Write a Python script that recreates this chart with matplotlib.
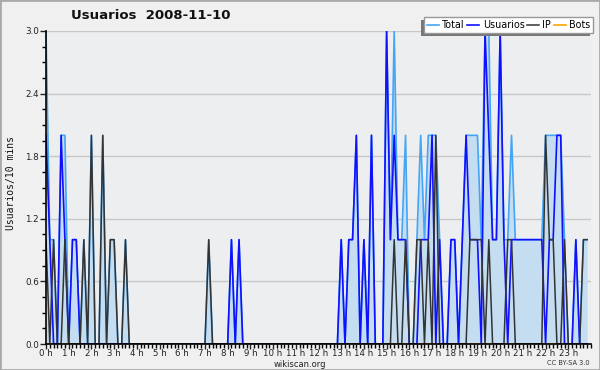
import matplotlib
matplotlib.use("Agg")
import matplotlib.pyplot as plt
from matplotlib.patches import Rectangle
import numpy as np

# valores cada 10 minutos (144 puntos)
usuarios = [2, 1, 0, 0, 2, 1, 0, 1, 1, 0, 0, 0, 0, 0, 0, 0, 0, 0, 0, 0, 0, 0, 0, 0,
            0, 0, 0, 0, 0, 0, 0, 0, 0, 0, 0, 0, 0, 0, 0, 0, 0, 0, 0, 0, 0, 0, 0, 0,
            0, 1, 0, 1, 0, 0, 0, 0, 0, 0, 0, 0, 0, 0, 0, 0, 0, 0, 0, 0, 0, 0, 0, 0,
            0, 0, 0, 0, 0, 0, 1, 0, 1, 1, 2, 0, 1, 0, 2, 0, 0, 0, 3, 1, 2, 1, 1, 1,
            0, 0, 0, 1, 1, 1, 2, 0, 1, 0, 0, 1, 1, 0, 1, 2, 1, 1, 1, 0, 3, 2, 1, 1,
            3, 1, 0, 1, 1, 1, 1, 1, 1, 1, 1, 1, 0, 1, 1, 2, 2, 0, 0, 0, 1, 0, 0, 0]
ip = [1, 0, 1, 0, 0, 1, 0, 0, 0, 0, 1, 0, 2, 0, 0, 2, 0, 1, 1, 0, 0, 1, 0, 0,
      0, 0, 0, 0, 0, 0, 0, 0, 0, 0, 0, 0, 0, 0, 0, 0, 0, 0, 0, 1, 0, 0, 0, 0,
      0, 0, 0, 0, 0, 0, 0, 0, 0, 0, 0, 0, 0, 0, 0, 0, 0, 0, 0, 0, 0, 0, 0, 0,
      0, 0, 0, 0, 0, 0, 0, 0, 0, 0, 0, 0, 0, 0, 0, 0, 0, 0, 0, 0, 1, 0, 0, 1,
      0, 0, 1, 1, 0, 1, 0, 2, 0, 0, 0, 0, 0, 0, 0, 0, 1, 1, 1, 1, 0, 1, 0, 0,
      0, 0, 1, 1, 0, 0, 0, 0, 0, 0, 0, 0, 2, 1, 1, 0, 0, 1, 0, 0, 0, 0, 1, 1]
bots = [0] * 144
total = [3, 1, 1, 0, 2, 2, 0, 1, 1, 0, 1, 0, 2, 0, 0, 2, 0, 1, 1, 0, 0, 1, 0, 0,
         0, 0, 0, 0, 0, 0, 0, 0, 0, 0, 0, 0, 0, 0, 0, 0, 0, 0, 0, 1, 0, 0, 0, 0,
         0, 1, 0, 1, 0, 0, 0, 0, 0, 0, 0, 0, 0, 0, 0, 0, 0, 0, 0, 0, 0, 0, 0, 0,
         0, 0, 0, 0, 0, 0, 1, 0, 1, 1, 2, 0, 1, 0, 2, 0, 0, 0, 3, 1, 3, 1, 1, 2,
         0, 0, 1, 2, 1, 2, 2, 2, 1, 0, 0, 1, 1, 0, 1, 2, 2, 2, 2, 1, 3, 3, 1, 1,
         3, 1, 1, 2, 1, 1, 1, 1, 1, 1, 1, 1, 2, 2, 2, 2, 2, 1, 0, 0, 1, 0, 1, 1]
horas = [f"{h} h" for h in range(24)]
yticks = [0.0, 0.6, 1.2, 1.8, 2.4, 3.0]

x = np.arange(len(total)) / 6.0

fig = plt.figure(figsize=(6, 3.7), dpi=100, facecolor="#f0f0f0")
ax = fig.add_axes([46 / 600, 1 - 344 / 370, 545 / 600, 313 / 370])
ax.set_facecolor("#edeef0")

ax.fill_between(x, 0, total, color="#c5ddf0", lw=0, zorder=1)
ax.plot(x, bots, color="#ffa500", lw=1.2, zorder=1.5)
l_total, = ax.plot(x, total, color="#45a5f5", lw=1.2, zorder=2)
l_usu, = ax.plot(x, usuarios, color="#1010ff", lw=1.2, zorder=3)
l_ip, = ax.plot(x, ip, color="#333333", lw=1.1, zorder=4)
l_bots, = ax.plot([], [], color="#ffa500", lw=1.2)

ax.set_xlim(0, 24)
ax.set_ylim(0, 3.0)
ax.set_yticks(yticks)
ax.set_yticklabels([f"{v:.1f}" for v in yticks])
ax.set_yticks(np.arange(0, 3.01, 0.15), minor=True)
ax.set_xticks(range(24))
ax.set_xticklabels(horas)
ax.set_xticks(np.arange(0, 24.01, 1 / 6), minor=True)
ax.grid(axis="y", color="#c8c8c8", lw=1, zorder=0)
ax.set_axisbelow(True)

for s in ["top", "right"]:
    ax.spines[s].set_visible(False)
for s in ["left", "bottom"]:
    ax.spines[s].set_color("black")
    ax.spines[s].set_linewidth(1.2)
    ax.spines[s].set_zorder(5)

ax.tick_params(axis="y", which="major", length=4, width=1, labelsize=6.3, pad=1, colors="#222222")
ax.tick_params(axis="y", which="minor", length=3, width=1)
ax.tick_params(axis="x", which="major", length=3.5, width=1, labelsize=6.2, pad=0, colors="#222222")
ax.tick_params(axis="x", which="minor", length=3, width=1)

fig.text(0.252, 0.957, "Usuarios  2008-11-10", ha="center", va="center",
         fontsize=9.5, fontweight="bold", color="#111111")
fig.text(0.018, 0.505, "Usuarios/10 mins", rotation=90, ha="center", va="center",
         fontsize=7, family="DejaVu Sans Mono", color="#111111")
fig.text(0.5, 0.016, "wikiscan.org", ha="center", va="center", fontsize=6, color="#222222")
fig.text(0.983, 0.018, "CC BY-SA 3.0", ha="right", va="center", fontsize=4.8, color="#333333")

leg = fig.legend([l_total, l_usu, l_ip, l_bots], ["Total", "Usuarios", "IP", "Bots"],
                 loc="upper right", bbox_to_anchor=(593 / 600, 1 - 17 / 370),
                 ncol=4, fontsize=6.9, frameon=True,
                 fancybox=False, handlelength=1.25, handletextpad=0.35, columnspacing=0.25,
                 borderpad=0.3, borderaxespad=0)
leg.get_frame().set_facecolor("white")
leg.get_frame().set_edgecolor("#999999")
leg.get_frame().set_linewidth(1)
leg.get_frame().set_alpha(1)
leg.set_zorder(10)

fig.canvas.draw()
bb = leg.get_window_extent()
W, H = fig.bbox.width, fig.bbox.height
shadow = Rectangle(((bb.x0 - 3) / W, (bb.y0 - 3) / H), bb.width / W, bb.height / H,
                   transform=fig.transFigure, facecolor="#777777", edgecolor="none", zorder=9)
fig.add_artist(shadow)

fig.add_artist(Rectangle((0, 0), 1, 1, transform=fig.transFigure, fill=False,
                         edgecolor="#aaaaaa", lw=2))

fig.savefig("out.png", dpi=100, facecolor=fig.get_facecolor())
